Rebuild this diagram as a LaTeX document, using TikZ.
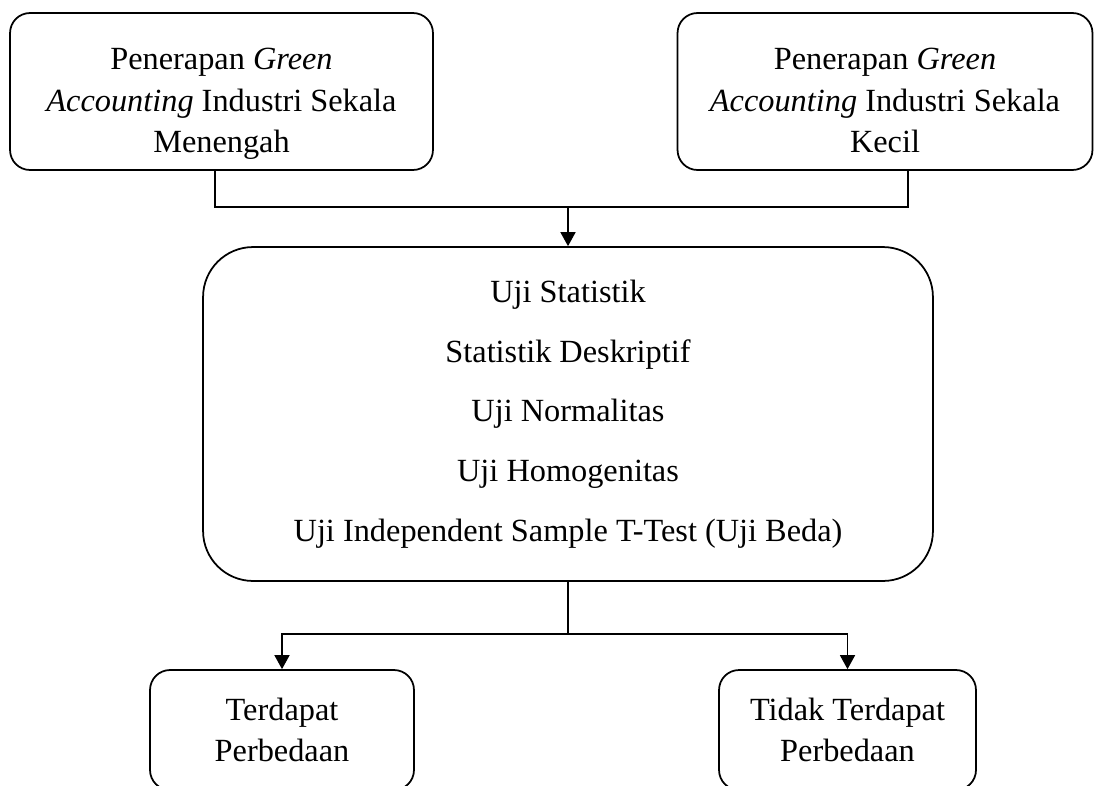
\documentclass[tikz,border=0pt]{standalone}
\usepackage{fontspec}
\setmainfont{Liberation Serif}
\usetikzlibrary{arrows.meta,positioning}

\begin{document}
\begin{tikzpicture}[x=0.02cm,y=-0.02cm,
  box/.style={draw,line width=1pt,rounded corners=0.4cm,inner sep=0pt,align=center,
    font=\fontsize{18.4}{23.5}\selectfont},
  bigbox/.style={box,rounded corners=1cm,font=\fontsize{18.4}{34}\selectfont},
  line/.style={line width=0.9pt},
  arr/.style={line,-{Triangle[length=0.28cm,width=0.3cm]}}]
\useasboundingbox (0,0) rectangle (1097,785);
\clip (0,0) rectangle (1097,785);
% top row
\node[box,minimum width=8.46cm,minimum height=3.14cm] (menengah) at (221.5,91.5)
  {\rule{0pt}{0.92cm}Penerapan \textit{Green}\\ \textit{Accounting} Industri Sekala\\ Menengah};
\node[box,minimum width=8.3cm,minimum height=3.14cm] (kecil) at (885,91.5)
  {\rule{0pt}{0.92cm}Penerapan \textit{Green}\\ \textit{Accounting} Industri Sekala\\
   Kecil\rule[-0.14cm]{0pt}{0.14cm}};
% statistical tests
\node[bigbox,minimum width=14.6cm,minimum height=6.68cm] (uji) at (568,414)
  {Uji Statistik\\ Statistik Deskriptif\\ Uji Normalitas\\ Uji Homogenitas\\
   Uji Independent Sample T-Test (Uji Beda)};
% results
\node[box,minimum width=5.28cm,minimum height=2.4cm] (beda) at (282,730)
  {Terdapat\\ Perbedaan};
\node[box,minimum width=5.14cm,minimum height=2.4cm] (tidak) at (847.5,730)
  {Tidak Terdapat\\ Perbedaan};
% connectors
\coordinate (xl) at (215,0);
\coordinate (xr) at (908,0);
\coordinate (jtop) at (568,207);
\coordinate (jbot) at (568,634);
\draw[line] (menengah.south -| xl) |- (jtop) -| (kecil.south -| xr);
\draw[arr] (jtop) -- (uji.north);
\draw[line] (uji.south) -- (jbot);
\draw[arr] (jbot) -| (beda.north);
\draw[arr] (jbot) -| (tidak.north);
\end{tikzpicture}
\end{document}
